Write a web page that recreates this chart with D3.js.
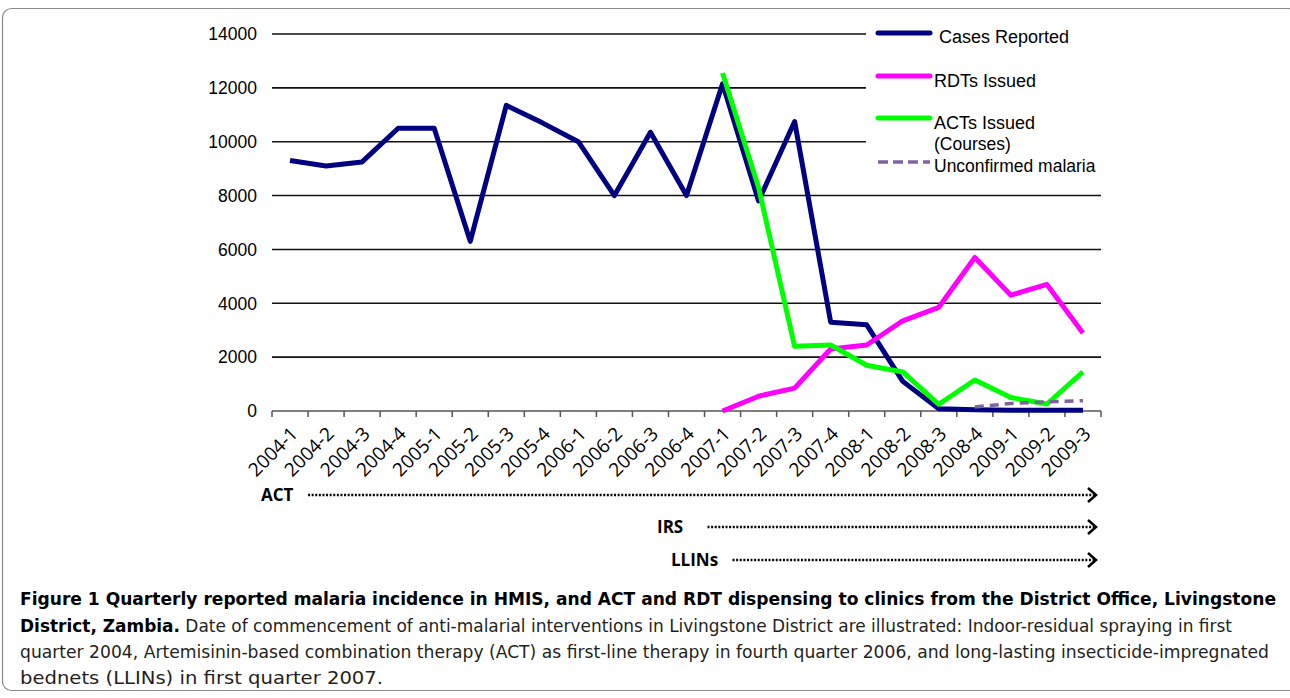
<!DOCTYPE html>
<html>
<head>
<meta charset="utf-8">
<script src="https://cdn.jsdelivr.net/npm/d3@7"></script>
<style>
  body { margin: 0; background: #fff; }
  svg { display: block; }
</style>
</head>
<body>
<svg id="chart" width="1290" height="698"></svg>
<script>
// data
var quarters = ["2004-1","2004-2","2004-3","2004-4","2005-1","2005-2","2005-3","2005-4",
                "2006-1","2006-2","2006-3","2006-4","2007-1","2007-2","2007-3","2007-4",
                "2008-1","2008-2","2008-3","2008-4","2009-1","2009-2","2009-3"];
var casesReported = [9300, 9100, 9250, 10500, 10500, 6300, 11350, 10700, 10000, 8000, 10350, 8000,
                     12150, 7800, 10750, 3300, 3200, 1100, 80, 50, 30, 30, 30];
var rdtsIssued = [null, null, null, null, null, null, null, null, null, null, null, null,
                  0, 550, 850, 2300, 2450, 3350, 3850, 5700, 4300, 4700, 2900];
var actsIssued = [null, null, null, null, null, null, null, null, null, null, null, null,
                  12550, 8300, 2400, 2450, 1700, 1450, 250, 1150, 500, 260, 1450];
var unconfirmed = [null, null, null, null, null, null, null, null, null, null, null, null,
                   null, null, null, null, null, null, null, 150, 280, 340, 380];
var yTicks = [0, 2000, 4000, 6000, 8000, 10000, 12000, 14000];
var interventions = ["ACT", "IRS", "LLINs"];
var interventionStart = ["2004-2", "2007-1", "2007-1"];

var captionLines = [
  [{t: "Figure 1 Quarterly reported malaria incidence in HMIS, and ACT and RDT dispensing to clinics from the District Office, Livingstone", b: true}],
  [{t: "District, Zambia.", b: true}, {t: " Date of commencement of anti-malarial interventions in Livingstone District are illustrated: Indoor-residual spraying in first", b: false}],
  [{t: "quarter 2004, Artemisinin-based combination therapy (ACT) as first-line therapy in fourth quarter 2006, and long-lasting insecticide-impregnated", b: false}],
  [{t: "bednets (LLINs) in first quarter 2007.", b: false}]
];
var captionWidths = [1256, 1212, 1249, 363];

var series = [
  {name: "Cases Reported", values: casesReported, color: "#000080", dash: null},
  {name: "RDTs Issued", values: rdtsIssued, color: "#ff00ff", dash: null},
  {name: "ACTs Issued", values: actsIssued, color: "#00ff00", dash: null},
  {name: "Unconfirmed malaria", values: unconfirmed, color: "#8064a2", dash: "9,6"}
];

var svg = d3.select("#chart");

// outer frame
svg.append("rect")
  .attr("x", 2.5).attr("y", 8.5)
  .attr("width", 1295).attr("height", 682)
  .attr("rx", 9)
  .attr("fill", "none")
  .attr("stroke", "#8a8a8a")
  .attr("stroke-width", 1.2);

var x = d3.scaleBand().domain(quarters).range([272, 1101]).padding(0);
var y = d3.scaleLinear().domain([0, 14000]).range([411, 34]);
var cx = function(q) { return x(q) + x.bandwidth() / 2; };

// gridlines
svg.append("g").selectAll("line")
  .data(yTicks.filter(function(d) { return d > 0; }))
  .enter().append("line")
    .attr("x1", 272).attr("x2", 1101)
    .attr("y1", function(d) { return y(d); })
    .attr("y2", function(d) { return y(d); })
    .attr("stroke", "#111")
    .attr("stroke-width", 1.6);

// y labels
svg.append("g").selectAll("text")
  .data(yTicks)
  .enter().append("text")
    .attr("x", 257)
    .attr("y", function(d) { return y(d); })
    .attr("dy", "0.36em")
    .attr("text-anchor", "end")
    .style("font-family", "'Liberation Sans', Arial, sans-serif")
    .style("font-size", "17.5px")
    .style("fill", "#000")
    .text(function(d) { return d; });

// x axis line + ticks at band boundaries
var xAxis = svg.append("g");
xAxis.append("line")
  .attr("x1", 272).attr("x2", 1101)
  .attr("y1", y(0)).attr("y2", y(0))
  .attr("stroke", "#555").attr("stroke-width", 1.5);
var bounds = quarters.map(function(q) { return x(q); }).concat([x.range()[1]]);
xAxis.selectAll(".tick")
  .data(bounds)
  .enter().append("line")
    .attr("x1", function(d) { return d; })
    .attr("x2", function(d) { return d; })
    .attr("y1", y(0)).attr("y2", y(0) + 6)
    .attr("stroke", "#555").attr("stroke-width", 1.5);

xAxis.selectAll(".lbl")
  .data(quarters)
  .enter().append("text")
    .attr("transform", function(d) { return "translate(" + (cx(d) + 9) + "," + (y(0) + 24) + ") rotate(-45)"; })
    .attr("text-anchor", "end")
    .style("font-family", "'Open Sans', 'DejaVu Sans', sans-serif")
    .style("font-size", "19px")
    .style("fill", "#000")
    .text(function(d) { return d; });

// lines
var line = d3.line()
  .defined(function(d) { return d.v !== null; })
  .x(function(d) { return cx(d.q); })
  .y(function(d) { return y(d.v); });

series.forEach(function(s) {
  var pts = quarters.map(function(q, i) { return {q: q, v: s.values[i]}; });
  svg.append("path")
    .datum(pts)
    .attr("d", line)
    .attr("fill", "none")
    .attr("stroke", s.color)
    .attr("stroke-width", s.dash ? 3.5 : 5)
    .attr("stroke-linejoin", "round")
    .attr("stroke-dasharray", s.dash);
});

// legend
var lg = svg.append("g");
lg.append("rect")
  .attr("x", 866).attr("y", 20).attr("width", 240).attr("height", 158)
  .attr("fill", "#fff");
var legendRows = [
  {s: series[0], ly: 33, tx: 939, ty: 43, extra: null},
  {s: series[1], ly: 76, tx: 934, ty: 87, extra: null},
  {s: series[2], ly: 118, tx: 934, ty: 129, extra: "(Courses)"},
  {s: series[3], ly: 162, tx: 934, ty: 172, extra: null}
];
legendRows.forEach(function(r) {
  lg.append("line")
    .attr("x1", 878).attr("x2", 930)
    .attr("y1", r.ly).attr("y2", r.ly)
    .attr("stroke", r.s.color)
    .attr("stroke-width", r.s.dash ? 3.5 : 5)
    .attr("stroke-linecap", r.s.dash ? "butt" : "round")
    .attr("stroke-dasharray", r.s.dash ? "10,5" : null);
  lg.append("text")
    .attr("x", r.tx).attr("y", r.ty)
    .style("font-family", "'Liberation Sans', Arial, sans-serif")
    .style("font-size", r.s.dash ? "17.5px" : "18px")
    .style("fill", "#000")
    .text(r.s.name);
  if (r.extra) {
    lg.append("text")
      .attr("x", r.tx).attr("y", r.ty + 21)
      .style("font-family", "'Liberation Sans', Arial, sans-serif")
      .style("font-size", "17.5px")
      .style("fill", "#000")
      .text(r.extra);
  }
});

// intervention arrows
var arrowRows = [
  {label: interventions[0], start: interventionStart[0], off: 0, ty: 495, lx: 261},
  {label: interventions[1], start: interventionStart[1], off: 3, ty: 527, lx: 657},
  {label: interventions[2], start: interventionStart[2], off: 28, ty: 560, lx: 671}
];
var arrowEnd = x.range()[1] - 5;
arrowRows.forEach(function(a) {
  svg.append("text")
    .attr("x", a.lx).attr("y", a.ty)
    .attr("dy", "0.36em")
    .style("font-family", "'Open Sans', 'DejaVu Sans', sans-serif")
    .style("font-weight", "bold")
    .style("font-size", "17px")
    .style("fill", "#000")
    .text(a.label);
  svg.append("line")
    .attr("x1", x(a.start) + a.off).attr("x2", arrowEnd - 2)
    .attr("y1", a.ty).attr("y2", a.ty)
    .attr("stroke", "#000")
    .attr("stroke-width", 2.5)
    .attr("stroke-dasharray", "2,1.6");
  svg.append("path")
    .attr("d", "M" + (arrowEnd - 8) + "," + (a.ty - 7) + "L" + arrowEnd + "," + a.ty + "L" + (arrowEnd - 8) + "," + (a.ty + 7))
    .attr("fill", "none")
    .attr("stroke", "#000")
    .attr("stroke-width", 2.5);
});

// caption
var capY = [605, 632, 658, 684];
captionLines.forEach(function(parts, i) {
  var t = svg.append("text")
    .attr("x", 20).attr("y", capY[i])
    .attr("textLength", captionWidths[i])
    .attr("lengthAdjust", "spacingAndGlyphs")
    .style("font-family", "'Liberation Sans Narrow', 'DejaVu Sans Condensed', sans-serif")
    .style("font-stretch", "condensed")
    .style("font-size", "18.5px")
    .style("fill", "#231f20");
  parts.forEach(function(p) {
    t.append("tspan")
      .style("font-weight", p.b ? "bold" : "normal")
      .style("fill", p.b ? "#000" : "#231f20")
      .text(p.t);
  });
});
</script>
</body>
</html>
